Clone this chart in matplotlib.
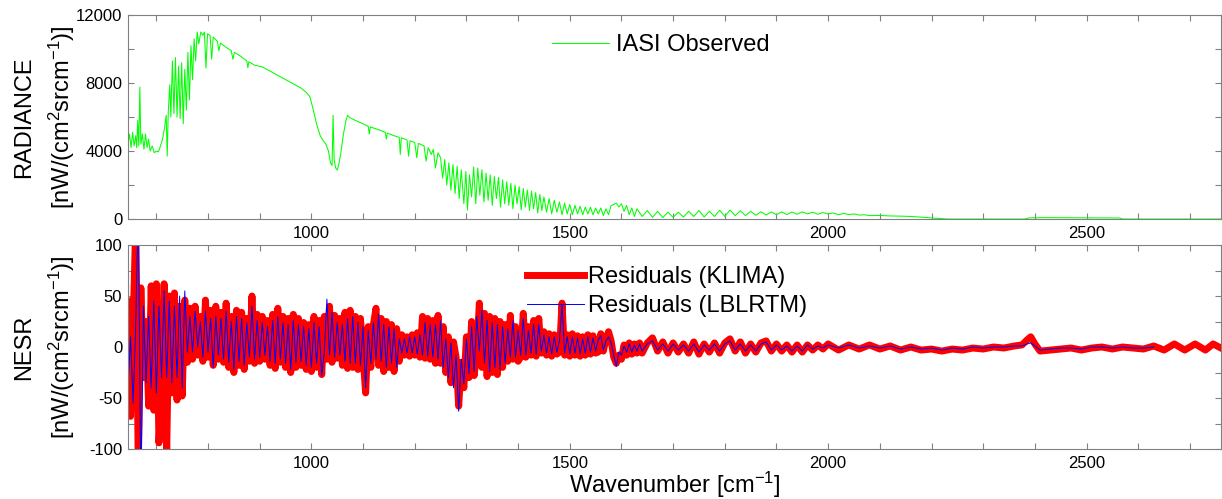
import numpy as np
import matplotlib
matplotlib.use("Agg")
import matplotlib.pyplot as plt
from matplotlib.ticker import MultipleLocator

plt.rcParams["font.family"] = ["Liberation Sans", "DejaVu Sans"]
plt.rcParams["mathtext.fontset"] = "custom"
plt.rcParams["mathtext.rm"] = "Liberation Sans"
plt.rcParams["mathtext.it"] = "Liberation Sans:italic"
plt.rcParams["axes.unicode_minus"] = False

# --- IASI observed radiance ---
rad_wn = [645, 648, 651, 654, 657, 660, 662, 664, 666, 668, 670, 673, 676, 679, 682, 685, 688, 692, 696, 700,
          704, 708, 712, 716, 719, 721, 723, 726, 728, 731, 734, 737, 740, 743, 746, 749, 752, 755, 758, 761,
          764, 767, 770, 773, 776, 779, 782, 786, 790, 793, 796, 799, 804, 807, 810, 818, 821, 824, 835, 845,
          848, 851, 862, 875, 877, 879, 890, 905, 920, 935, 950, 965, 980, 990, 997, 1003, 1010, 1017, 1023, 1028,
          1033, 1037, 1040, 1042, 1044, 1047, 1050, 1053, 1057, 1062, 1067, 1070, 1075, 1085, 1100, 1110, 1112, 1114, 1130, 1143,
          1145, 1147, 1160, 1170, 1172, 1174, 1185, 1188, 1191, 1200, 1204, 1207, 1218, 1222, 1226, 1232, 1236, 1240, 1245,
          1250, 1254, 1258, 1262, 1266, 1270, 1274, 1278, 1282, 1286, 1290, 1295, 1299, 1302, 1306, 1310, 1314, 1318, 1322, 1326,
          1330, 1334, 1338, 1342, 1346, 1350, 1354, 1358, 1362, 1366, 1370, 1374, 1378, 1382, 1386, 1390, 1394, 1398, 1402, 1406,
          1410, 1414, 1418, 1422, 1426, 1430, 1434, 1438, 1442, 1446, 1450, 1455, 1460, 1465, 1470, 1475, 1480, 1485, 1490, 1495,
          1500, 1505, 1510, 1515, 1520, 1525, 1530, 1535, 1540, 1545, 1550, 1555, 1560, 1565, 1570, 1575, 1580, 1585, 1590, 1595,
          1600, 1605, 1610, 1615, 1620, 1625, 1630, 1640, 1650, 1660, 1670, 1680, 1690, 1700, 1710, 1720, 1730, 1740, 1750, 1760,
          1770, 1780, 1790, 1800, 1810, 1820, 1830, 1840, 1850, 1860, 1870, 1880, 1890, 1900, 1910, 1920, 1930, 1940, 1950, 1960,
          1970, 1980, 1990, 2000, 2010, 2020, 2030, 2040, 2050, 2060, 2070, 2080, 2100, 2120, 2140, 2160, 2180, 2200, 2215, 2232,
          2380, 2390, 2420, 2460, 2500, 2540, 2564, 2570, 2760]
rad_val = [4300, 5000, 4200, 5100, 4300, 4900, 4200, 5800, 4300, 7760, 4400, 5000, 4100, 5000, 4200, 4700, 4000, 4300, 3900, 4000,
           3950, 4300, 4700, 5400, 6100, 3700, 6300, 7900, 6000, 9300, 6200, 9500, 6000, 9000, 5900, 9200, 5600, 8800, 6400, 9800,
           7000, 10200, 8200, 10600, 9300, 11000, 10300, 11000, 10800, 11000, 8880, 10900, 10800, 9400, 10700, 10450, 9900, 10350, 10100, 9900,
           9400, 9800, 9600, 9300, 8900, 9250, 9050, 8950, 8700, 8450, 8200, 7950, 7700, 7450, 7200, 6500, 5600, 4900, 4600, 4400,
           4000, 3300, 3150, 6100, 3500, 3000, 2880, 3200, 3900, 5000, 5800, 6100, 5950, 5800, 5600, 5450, 5000, 5420, 5250, 5100,
           4700, 5050, 4900, 4800, 3800, 4780, 4650, 3700, 4600, 4500, 3600, 4450, 4300, 3400, 4200, 3800, 4100, 3000, 3900,
           3600, 2400, 3500, 2000, 3300, 1700, 3200, 1500, 3100, 1200, 2900, 900, 2800, 530, 2600, 1300, 3060, 900, 3000, 1400,
           2900, 1000, 2700, 1100, 2600, 800, 2500, 1200, 2450, 700, 2300, 900, 2200, 800, 2100, 600, 2000, 900, 1900, 530,
           1800, 700, 1700, 500, 1650, 600, 1550, 350, 1450, 500, 1300, 400, 1200, 300, 1100, 400, 1000, 250, 940, 300,
           850, 250, 800, 300, 750, 250, 700, 300, 700, 250, 650, 300, 650, 200, 600, 250, 800, 850, 940, 700,
           900, 450, 800, 250, 650, 150, 600, 150, 500, 100, 450, 80, 400, 100, 400, 120, 450, 150, 500, 120,
           450, 150, 520, 150, 530, 200, 480, 200, 450, 220, 430, 230, 420, 250, 420, 260, 410, 280, 420, 300,
           400, 280, 380, 300, 360, 250, 330, 260, 300, 230, 250, 200, 210, 180, 170, 150, 110, 60, 30, 0,
           0, 70, 80, 75, 70, 70, 60, 0, 0]

# --- residuals, sampled every 5 cm-1 up to 1640, every 10 up to 1990, then tail ---
res_wn_tail = [2000, 2020, 2040, 2060, 2080, 2100, 2120, 2140, 2160, 2180, 2200, 2220, 2240, 2260, 2280, 2300, 2320, 2340, 2360,
               2375, 2385, 2392, 2400, 2410,
               2430, 2450, 2470, 2490, 2510, 2530, 2550, 2570, 2590, 2610, 2630,
               2650, 2670, 2690, 2710, 2730, 2745, 2760]
res_wn = list(np.arange(645, 1641, 5)) + list(np.arange(1650, 1991, 10)) + res_wn_tail

klima = [45, -68, 20, 120, -120, 58, -30, 25, -58, 60,
         -62, 62, -94, -40, 62, -102, 50, -45, 53, -52,
         40, -48, 46, -15, 38, -12, 40, -8, 30, -14,
         46, -10, 36, -18, 40, -12, 34, -15, 43, -20,
         30, -25, 36, -18, 34, -22, 28, -14, 50, -16,
         32, -14, 30, -12, 26, -18, 32, -21, 38, -15,
         30, -20, 28, -25, 32, -20, 28, -18, 24, -22,
         22, -24, 30, -20, 26, -27, 30, -12, 40, -15,
         31, -11, 28, -18, 34, -21, 36, -20, 30, -22,
         28, -10, -45, 20, -20, 22, 38, -18, 28, -24,
         25, -20, 22, -24, 18, -14, 12, -8, 10, -9,
         12, -8, 14, -10, 30, -11, 28, -12, 26, -16,
         31, -16, 20, -25, 10, -35, 5, -10, -58, -15,
         -40, 10, -30, 25, -28, -5, 43, -20, 33, -29,
         30, -25, 28, -27, 25, -20, 22, -14, 31, -12,
         20, -14, -10, 33, -10, 20, -8, 26, -9, 28,
         -6, 15, -8, 13, -9, 12, -7, -5, 43, -8,
         12, -9, 13, -8, 11, -9, 10, -8, 12, -7,
         11, -6, -5, 13, -4, 8, 15, 6, -10, -16,
         -8, -12, 2, -8, 4, -7, 3, -6, 4, -6,
         4, 9, -4, 5, -6, 4, -5, 3, -6, 5,
         -7, 3, -5, 4, -6, 4, 8, -4, 5, -6,
         3, -5, 4, 6, -4, 3, -4, 2, -5, 2,
         -5, 2, -3, 2, -2,
         3, -3, 2, -2, 2, -2, 1, -3, 0, -3, -2, -4, -2, -3, -1, -2, 0, -1, 1,
         2, 7, 10, 3, -4,
         -3, -2, -1, -3, -1, 0, -2, 0, -1, -2, 1,
         -3, 3, -3, 3, -3, 3, -1]

lblrtm = [-40, 10, -55, 20, 140, -140, 40, -35, 30, -40,
          45, -45, 40, -30, 55, -30, 45, -35, 40, -30,
          50, -40, 55, -5, 30, -5, 35, 0, 25, -10,
          35, -5, 28, -20, 30, -8, 28, -12, 35, -15,
          25, -22, 30, -14, 28, -18, 24, -10, 40, -12,
          26, -10, 24, -8, 20, -14, 26, -16, 30, -12,
          24, -16, 22, -22, 26, -15, 22, -14, 20, -18,
          18, -20, 24, -16, 20, -28, -5, 47, -8, 34,
          -10, 24, -8, 22, -14, 28, -16, 30, -16, 24,
          -18, 20, -40, 16, -16, 24, -12, 32, -14, 22,
          -20, 20, -16, 18, -20, 8, -6, 8, -6, 10,
          -6, 10, -7, 12, -8, 24, -9, 22, -10, 22,
          -12, 26, -20, 8, -30, 4, -40, -8, -63, -12,
          -36, 8, -26, 20, -24, 30, -4, 36, -16, 26,
          -24, 24, -20, 22, -22, 20, -16, 18, -10, 26,
          -10, 16, -8, 28, -8, 16, -6, 22, -7, 22,
          -4, 12, -6, 10, -7, 10, -5, 6, 42, -6,
          10, -7, 10, -6, 9, -7, 8, -6, 10, -5,
          9, -4, 7, 11, -3, 6, 10, 4, -8, -19,
          -5, -8, 1, -5, 3, -5, 2, -4, 3, -4,
          3, 6, -3, 3, -4, 3, -3, 2, -4, 3,
          -5, 2, -3, 3, -4, 3, 6, -3, 3, -4,
          2, -4, 3, 5, -3, 2, -3, 1, -4, 1,
          -4, 2, -2, 1, -1,
          2, -1, 2, -1, 1, -1, 1, -2, 0, -2, -1, -3, -1, -2, 0, -1, 0, 0, 1,
          1, 3, 4, 1, -3,
          -2, -1, -1, -2, 0, 0, -1, 0, -1, -1, 0]

fig = plt.figure(figsize=(12.22, 4.99), dpi=100)
ax1 = fig.add_axes([0.1047, 0.5611, 0.8944, 0.4088])
ax2 = fig.add_axes([0.1047, 0.1002, 0.8944, 0.4088])

ax1.plot(rad_wn, rad_val, color="#00ff00", lw=0.75, label="IASI Observed")
ax2.plot(res_wn, klima, color="#ff0000", lw=5, solid_joinstyle="round",
         label="Residuals (KLIMA)")
ax2.plot(res_wn[:len(lblrtm)], lblrtm, color="#0000ff", lw=0.7,
         label="Residuals (LBLRTM)")

ax1.set_ylim(0, 12000)
ax2.set_ylim(-100, 100)
for ax in (ax1, ax2):
    ax.set_xlim(645, 2760)
    ax.xaxis.set_major_locator(MultipleLocator(500))
    ax.xaxis.set_minor_locator(MultipleLocator(100))
    ax.tick_params(which="both", direction="in", top=True, right=True,
                   length=4, width=0.8, color="#808080", labelsize=12)
    ax.tick_params(axis="x", pad=5)
    ax.tick_params(axis="y", pad=4)
    for s in ax.spines.values():
        s.set_color("#808080")
ax1.yaxis.set_major_locator(MultipleLocator(4000))
ax1.yaxis.set_minor_locator(MultipleLocator(2000))
ax2.yaxis.set_major_locator(MultipleLocator(50))
ax2.yaxis.set_minor_locator(MultipleLocator(25))

ax1.set_ylabel("RADIANCE\n[nW/(cm$^2$srcm$^{-1}$)]", fontsize=17, linespacing=1.5)
ax2.set_ylabel("NESR\n[nW/(cm$^2$srcm$^{-1}$)]", fontsize=17, linespacing=1.5)
ax1.yaxis.set_label_coords(-0.047, 0.5)
ax2.yaxis.set_label_coords(-0.047, 0.5)
ax2.set_xlabel("Wavenumber [cm$^{-1}$]", fontsize=17, labelpad=-1)

ax1.legend(loc="upper left", bbox_to_anchor=(0.388, 0.905), frameon=False,
           fontsize=17, handlelength=2.4, handletextpad=0.3,
           borderpad=0, borderaxespad=0)
ax2.legend(loc="upper left", bbox_to_anchor=(0.365, 0.895), frameon=False,
           fontsize=17, handlelength=2.4, handletextpad=0.2,
           borderpad=0, borderaxespad=0, labelspacing=0.27)

fig.savefig("out.png", dpi=100)
